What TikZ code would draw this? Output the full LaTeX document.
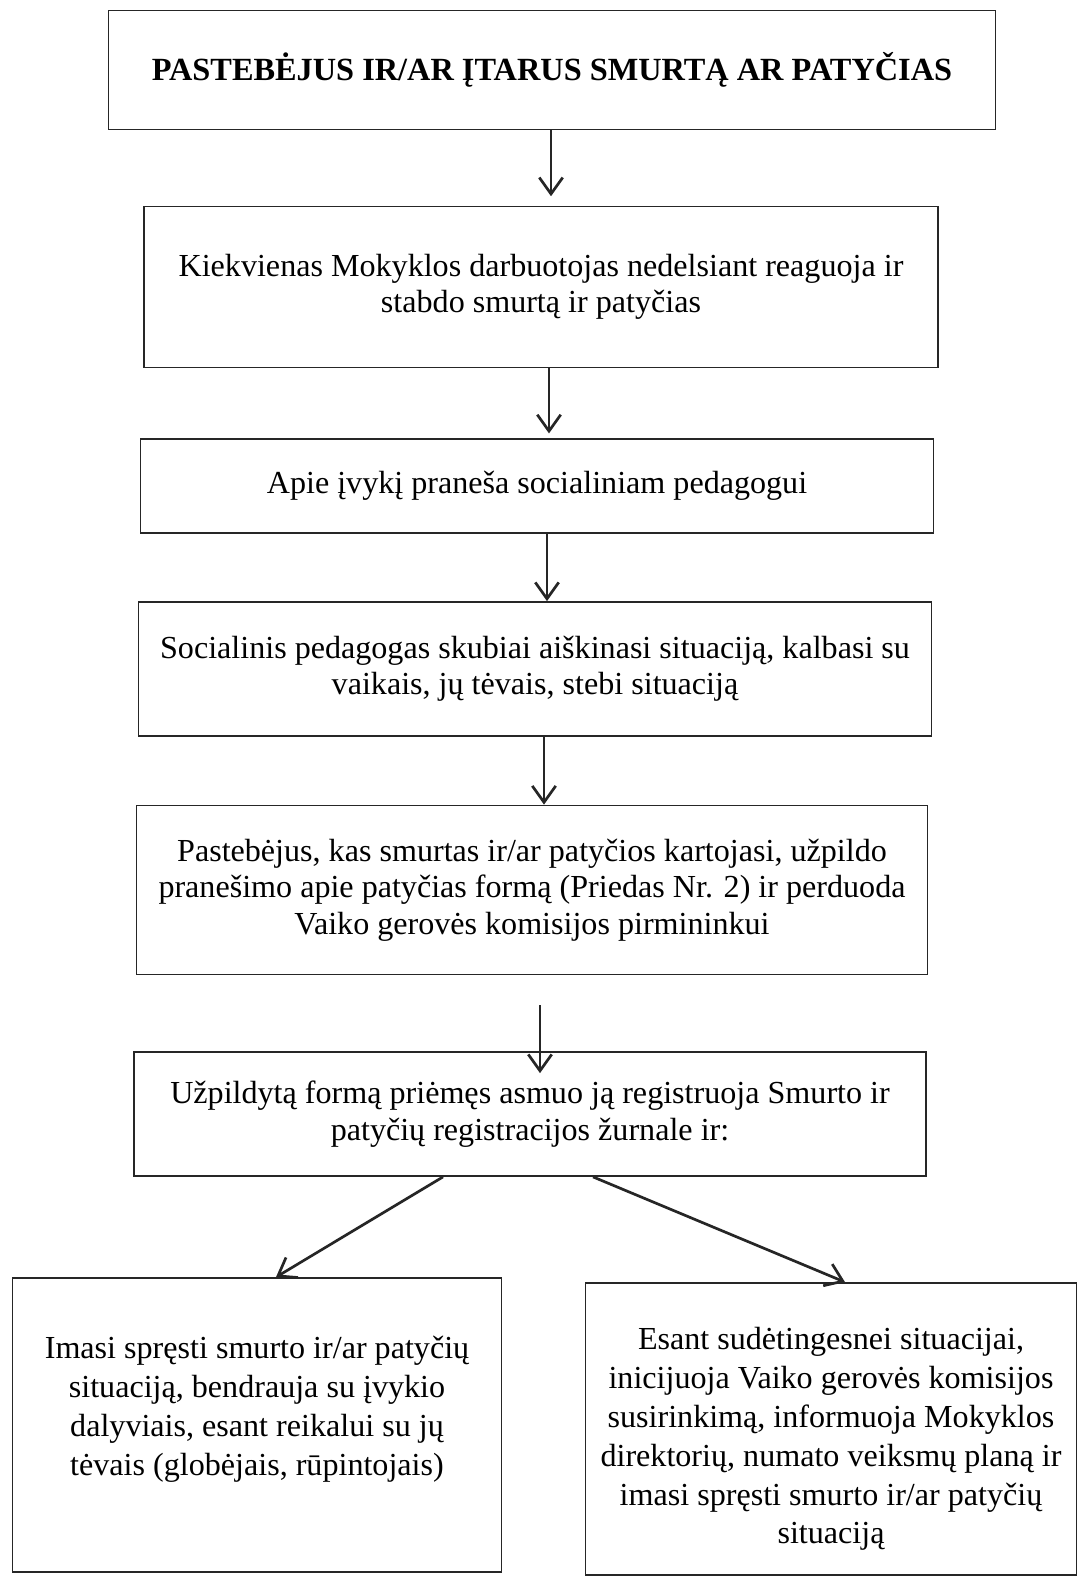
\documentclass[tikz,border=0pt]{standalone}
\usepackage{fontspec}
\setmainfont{Liberation Serif}
\usepackage{tikz}
\usetikzlibrary{arrows.meta}

\begin{document}
\begin{tikzpicture}[
    x=0.015cm,
    y=-0.015cm,
    >={Straight Barb[length=7pt,width=10pt]},
    font=\fontsize{13.7}{15.5}\selectfont,
    box/.style={
		rectangle,
		draw=black!85,
		line width=0.75pt,
		align=center,
		inner sep=0pt,
		fill=white
	},
	branch/.style={
		box,
		font=\fontsize{13.7}{16.6}\selectfont
	},
	arr/.style={
		->,
		line width=1.15pt,
		draw=black!85
	}
  ]

 \useasboundingbox (0,0) rectangle (1084,1578);

 % // steps
 \node [box, minimum width=13.305cm, minimum height=1.785cm] (start) at (552,70)
 {\bfseries\fontsize{13.8}{15.5}\selectfont PASTEBĖJUS IR/AR ĮTARUS SMURTĄ AR PATYČIAS};

 \node [box, minimum width=11.91cm, minimum height=2.415cm] (react) at (541,287)
 {Kiekvienas Mokyklos darbuotojas nedelsiant reaguoja ir\\ stabdo smurtą ir patyčias};

 \node [box, minimum width=11.895cm, minimum height=1.41cm] (inform) at (537,486)
 {Apie įvykį praneša socialiniam pedagogui};

 \node [box, minimum width=11.895cm, minimum height=2.01cm] (pedagog) at (535,669)
 {Socialinis pedagogas skubiai aiškinasi situaciją, kalbasi su\\ vaikais, jų tėvais, stebi situaciją};

 \node [box, minimum width=11.865cm, minimum height=2.535cm] (repeat) at (532,890)
 {Pastebėjus, kas smurtas ir/ar patyčios kartojasi, užpildo\\ pranešimo apie patyčias formą (Priedas Nr. 2) ir perduoda\\ Vaiko gerovės komisijos pirmininkui};

 \node [box, minimum width=11.88cm, minimum height=1.86cm] (register) at (530,1114)
 {Užpildytą formą priėmęs asmuo ją registruoja Smurto ir\\ patyčių registracijos žurnale ir:};

 % // the two branches
 \node [branch, minimum width=7.335cm, minimum height=4.41cm] (solve) at (257,1425)
 {Imasi spręsti smurto ir/ar patyčių\\ situaciją, bendrauja su įvykio\\ dalyviais, esant reikalui su jų\\ tėvais (globėjais, rūpintojais)\\ ~};

 \node [branch, minimum width=7.365cm, minimum height=4.38cm] (commission) at (831,1429)
 {\rule{0pt}{18pt}Esant sudėtingesnei situacijai,\\ inicijuoja Vaiko gerovės komisijos\\ susirinkimą, informuoja Mokyklos\\ direktorių, numato veiksmų planą ir\\ imasi spręsti smurto ir/ar patyčių\\ situaciją};

 \draw [arr, shorten >=4pt] ([xshift=-0.015cm]start.south) -- ([xshift=-0.015cm]start.south |- react.north);
 \draw [arr, shorten >=2pt] ([xshift=0.12cm]react.south) -- ([xshift=0.12cm]react.south |- inform.north);
 \draw [arr] ([xshift=0.15cm]inform.south) -- ([xshift=0.15cm]inform.south |- pedagog.north);
 \draw [arr] ([xshift=0.135cm]pedagog.south) -- ([xshift=0.135cm]pedagog.south |- repeat.north);
 \draw [arr] ([xshift=0.12cm,yshift=-0.45cm]repeat.south) -- ([xshift=0.12cm,yshift=-0.33cm]repeat.south |- register.north);

 \draw [arr] ([xshift=-1.305cm]register.south) -- ([xshift=0.285cm]solve.north);
 \draw [arr] ([xshift=0.945cm]register.south) -- ([xshift=0.21cm]commission.north);

\end{tikzpicture}
\end{document}
